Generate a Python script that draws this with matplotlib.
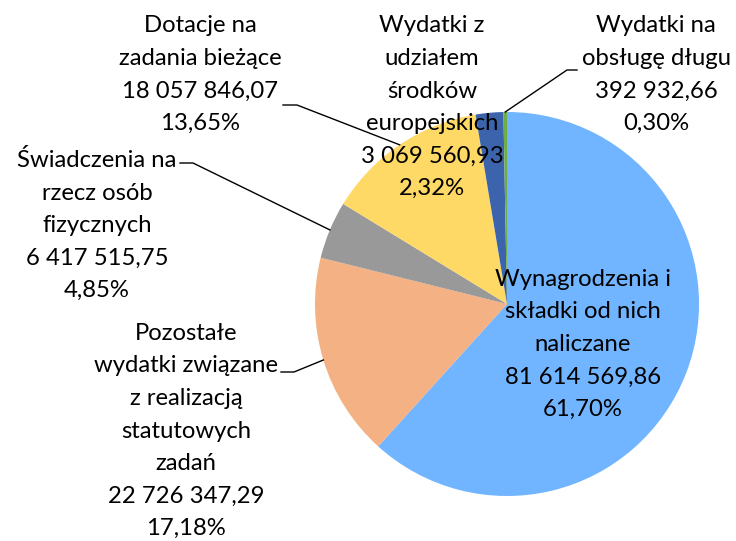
import matplotlib
matplotlib.use('Agg')
import matplotlib.pyplot as plt
import numpy as np

names = ['Wynagrodzenia i\nskładki od nich\nnaliczane',
         'Pozostałe\nwydatki związane\nz realizacją\nstatutowych\nzadań',
         'Świadczenia na\nrzecz osób\nfizycznych',
         'Dotacje na\nzadania bieżące',
         'Wydatki z\nudziałem\nśrodków\neuropejskich',
         'Wydatki na\nobsługę długu']
values = [81614569.86, 22726347.29, 6417515.75, 18057846.07, 3069560.93, 392932.66]
colors = ['#71b4ff', '#f4b183', '#999999', '#ffd966', '#3c64ad', '#70ad47']

# label centre x and first baseline y, in pixels from top-left
label_pos = [(583, 286), (186, 340), (97, 167), (200, 32.5), (432, 32.5), (656, 32.5)]
# leader start points (None = no leader)
leaders = [None, [(281, 372), (294, 372)], [(180, 163), (193, 163)],
           [(283, 105), (297, 105)], None, [(577, 70), (567, 70)]]

W, H = 736, 541
cx, cy, r = 507, 304, 192
step = 32.5

def fmt_num(v):
    return f'{v:,.2f}'.replace(',', ' ').replace('.', ',')

plt.rcParams['font.family'] = ['Lato', 'DejaVu Sans']

fig = plt.figure(figsize=(W / 100, H / 100), dpi=100)
ax = fig.add_axes([0, 0, 1, 1])
wedges, _ = ax.pie(values, colors=colors, startangle=90, counterclock=False,
                   center=(cx, H - cy), radius=r,
                   wedgeprops=dict(linewidth=0, antialiased=True))
ax.set_xlim(0, W)
ax.set_ylim(0, H)
ax.set_aspect('equal')
ax.axis('off')

total = sum(values)
for w, name, v, pos, ld in zip(wedges, names, values, label_pos, leaders):
    lines = name.split('\n') + [fmt_num(v), f'{v / total * 100:.2f}%'.replace('.', ',')]
    for i, line in enumerate(lines):
        ax.text(pos[0], H - (pos[1] + i * step), line, ha='center', va='baseline',
                fontsize=17.2, color='black', zorder=5)
    if ld is not None:
        mid = np.deg2rad((w.theta1 + w.theta2) / 2)
        ex = cx + r * np.cos(mid)
        ey = (H - cy) + r * np.sin(mid)
        xs = [p[0] for p in ld] + [ex]
        ys = [H - p[1] for p in ld] + [ey]
        ax.plot(xs, ys, color='black', lw=1, zorder=4)

fig.savefig('out.png', dpi=100)
